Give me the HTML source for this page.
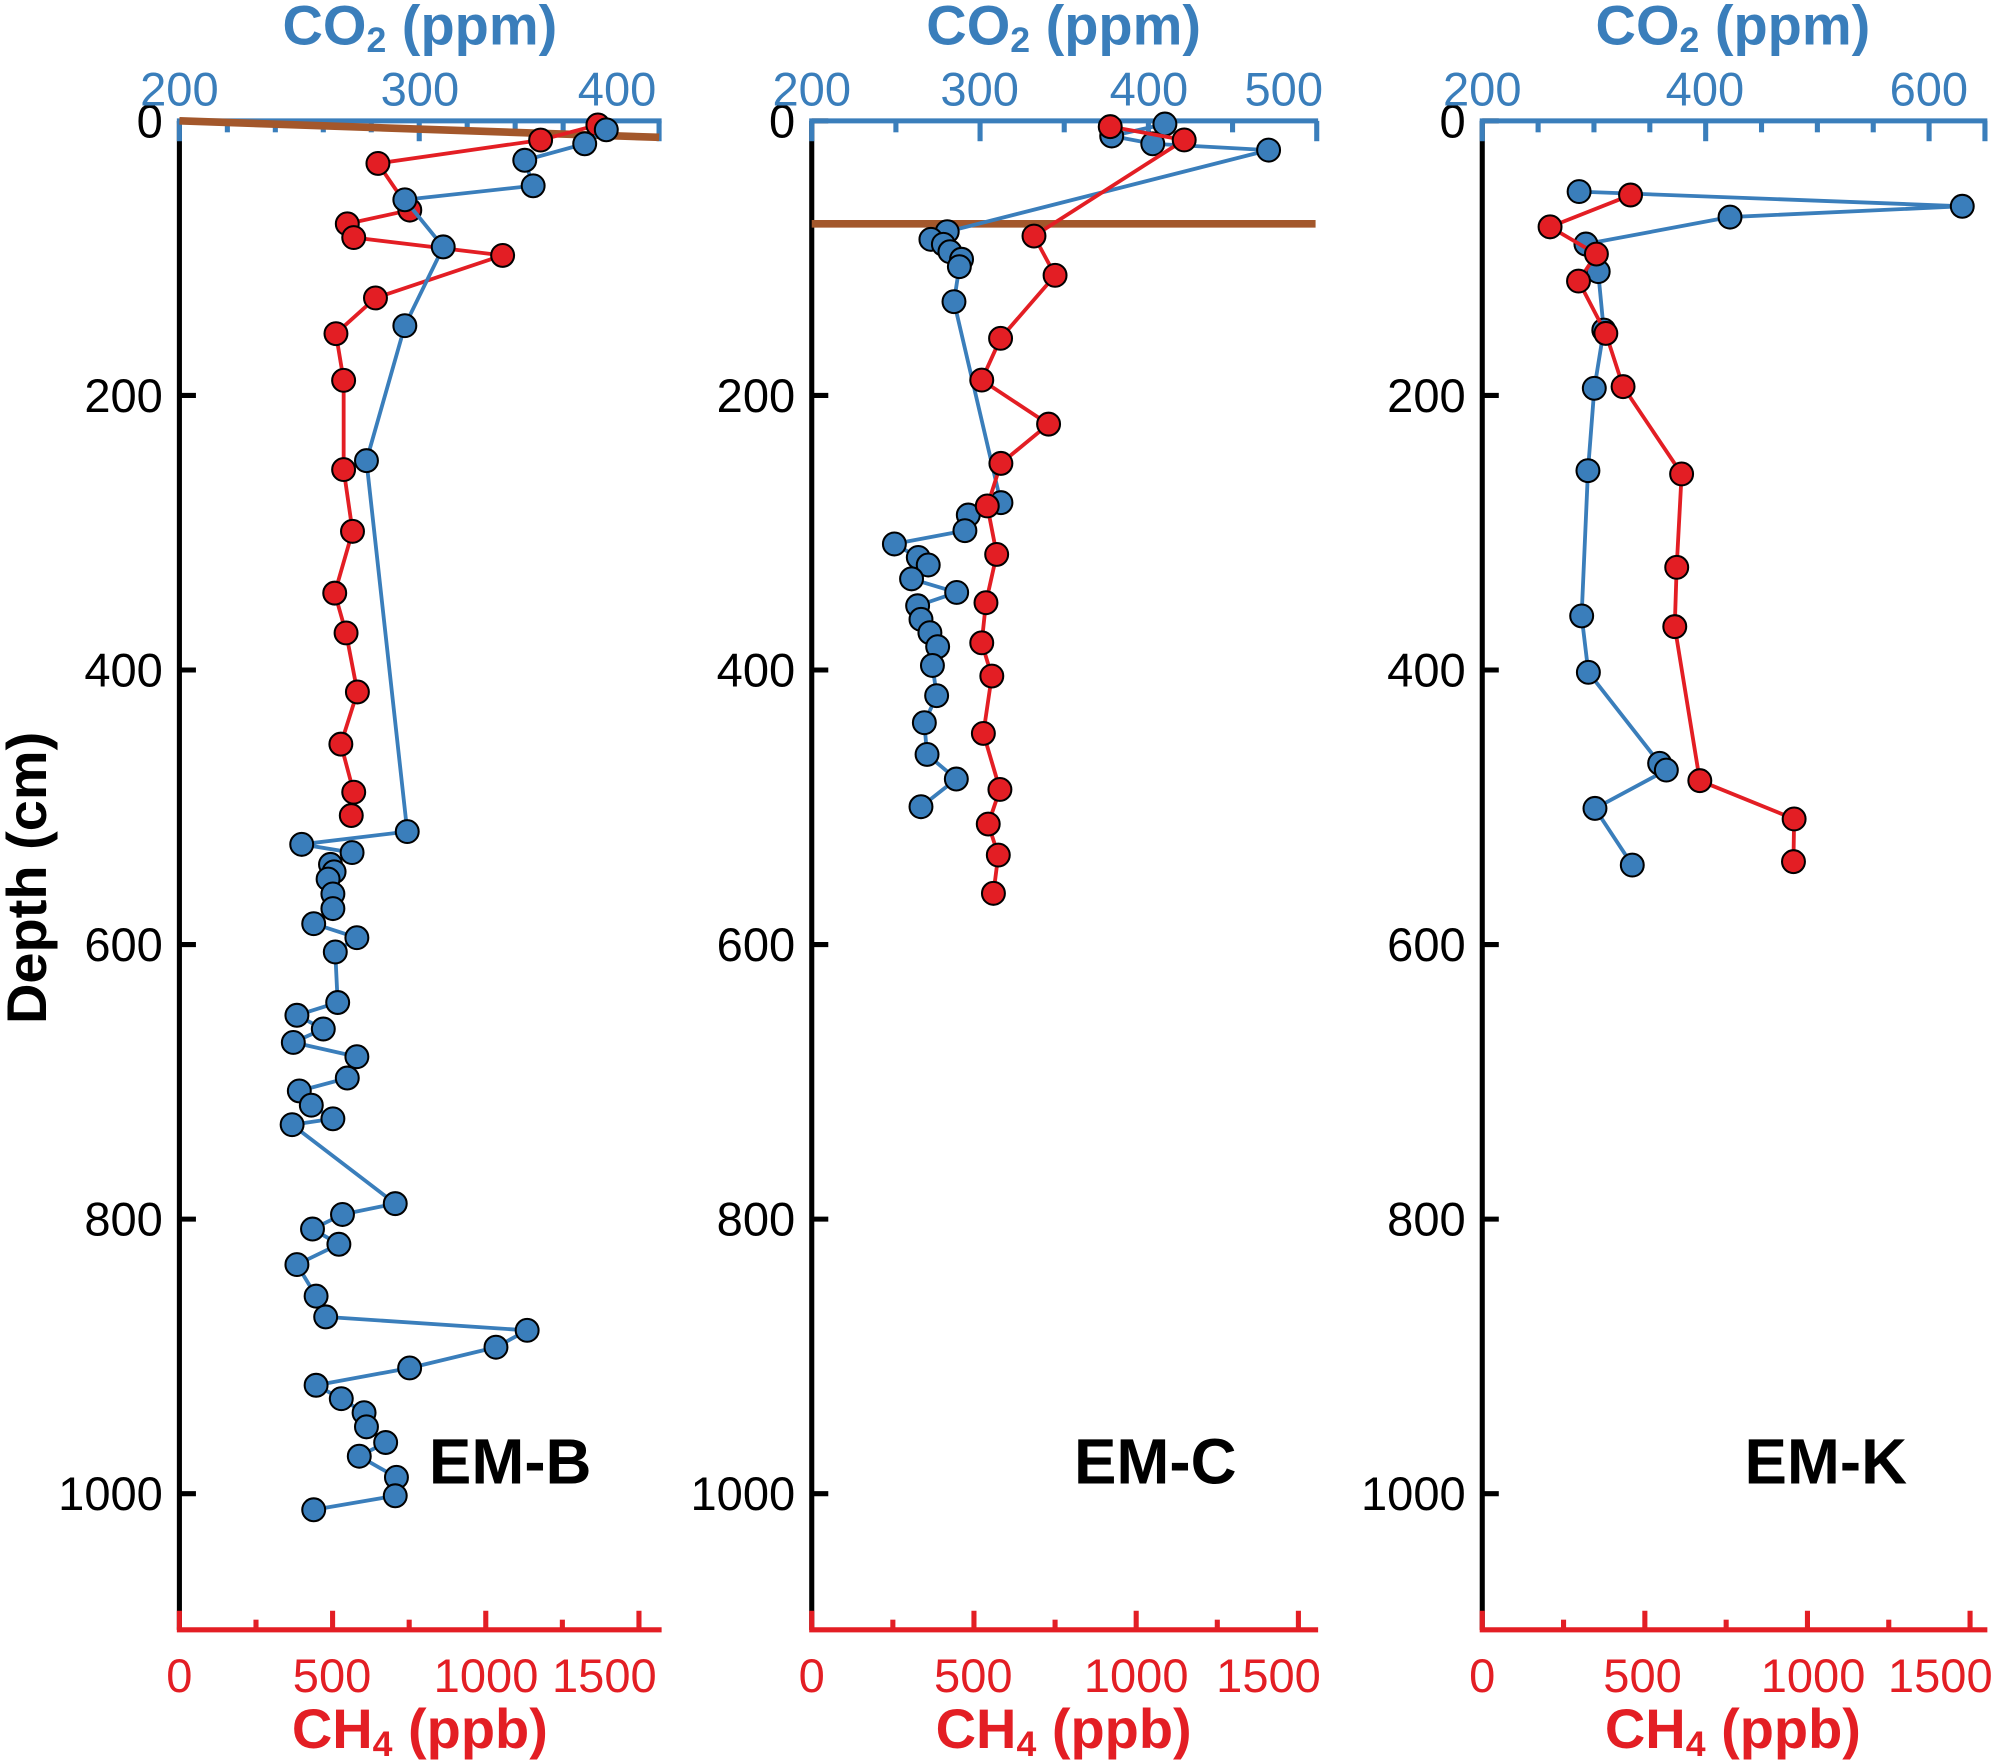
<!DOCTYPE html>
<html><head><meta charset="utf-8"><style>
html,body{margin:0;padding:0;background:#fff;}
svg{display:block;}
text{font-family:"Liberation Sans",Arial,sans-serif;}
</style></head><body>
<svg id="chart" width="1995" height="1760" viewBox="0 0 1568 1383.3" xmlns="http://www.w3.org/2000/svg">
<text x="0" y="0" transform="translate(36,690) rotate(-90)" text-anchor="middle" font-size="44" font-weight="bold" fill="#000">Depth (cm)</text>
</svg>
<script>
// ---- data: EM-B ----
const depthCO2B=[6.5,16.7,28.7,47.3,57.5,91.8,149.2,247.5,517.7,527,533,541.6,547,552.3,563.1,573.8,584.8,595,605.4,642.2,651.5,661.5,671.3,681.7,697.2,706.6,717,726.9,731.2,788.7,796.6,807.2,818.3,833.1,856.1,871.2,881,893.3,908.4,921,930.8,941,951.3,962.7,972.7,988.1,1001.5,1011.7];
const co2B=[378,369,344,347.5,294,310,294,278,295,251,272,263,264.5,262,264,264,256,274,265,266,249,260,247.5,274,270,250,255,264,247,290,268,255.5,266.5,249,257,261,345,332,296,257,267.5,277,278,286,275,290.5,290,256];
const depthCH4B=[3,14,31,65,75,85,98,129,155,189,254,299,344,373,416,454,489,506];
const ch4B=[1366,1179,648,752,548,569,1055,640,511,536,536,565,507,544,581,527,569,561];
// ---- data: EM-C ----
const depthCO2C=[2.3,11,16.7,21.3,80.7,86.3,89.9,95.3,100.8,106.2,131.7,278.1,287.1,298.5,308.2,318,323.5,333.6,343.5,353.2,363.1,372.8,383,396.7,418.7,438.4,461.5,479.4,499.6];
const co2C=[409.8,378.2,402.6,471.4,280.5,270.8,278.2,282.1,289,287.7,284.5,312.4,293,291,249.1,263.3,269.2,259.3,286.1,262.9,264.9,270.2,274.8,271.7,274.2,266.9,268.5,285.9,264.9];
const depthCH4C=[4.2,13.9,83.9,112.5,158.4,188.8,220.9,249.5,280.5,315.8,351,380.2,404.4,446.2,487,512.2,534.8,562.7];
const ch4C=[920,1148,685,750,582,524,730,583,541,570,537,524,555,529,580,544,575,560];
// ---- data: EM-K ----
const depthCO2K=[51.5,62.2,70.1,89.7,109.8,152.4,194.8,254.8,360.6,401.7,468,472.9,500.8,542.1];
const co2K=[286.7,629.7,421.8,292.8,303.8,308.8,300.3,294.6,289,295,358.8,364.8,300.9,334.3];
const depthCH4K=[54,77.2,97,116.7,154.8,193.6,257.2,325.2,368.4,480.6,508.5,539.6];
const ch4K=[456,208.5,351,296,380,433,613,598,592,669,959,957];
// ---- tick labels ----
const depthTicks=[0,200,400,600,800,1000];
const ch4TickLabels=["0","500","1000","1500"];

const NS="http://www.w3.org/2000/svg";
const svg=document.getElementById('chart');
const BLUE="#3a7ebb",RED="#e31e24",BROWN="#a3572b";
function mk(tag,attrs,parent){const e=document.createElementNS(NS,tag);for(const k in attrs)e.setAttribute(k,attrs[k]);(parent||svg).appendChild(e);return e;}

const Y0=95,YB=1281,DPX=1.079;
function yD(d){return Y0+d*DPX;}

const panels=[
 {id:'em-b',x0:141,xEnd:518,co2Min:200,co2Scale:1.885,co2Step:20,co2Major:[200,300,400],co2Max:400,
  co2Labels:[[200,141],[300,330],[400,485]],ch4Scale:0.2408,ch4LabelX:[141,261,382,475],
  dC:depthCO2B,vC:co2B,dM:depthCH4B,vM:ch4B,redFirst:true,name:'EM-B',nameX:401,titleX:330,
  brown:[[141,0],[518,12]]},
 {id:'em-c',x0:638,xEnd:1034,co2Min:200,co2Scale:1.323,co2Step:50,co2Major:[200,300,400,500],co2Max:500,
  co2Labels:[[200,638],[300,770],[400,903],[500,1009]],ch4Scale:0.255,ch4LabelX:[638,765,893,997],
  dC:depthCO2C,vC:co2C,dM:depthCH4C,vM:ch4C,redFirst:false,name:'EM-C',nameX:908,titleX:836,
  brown:[[638,75],[1034,75]]},
 {id:'em-k',x0:1165,xEnd:1560,co2Min:200,co2Scale:0.878,co2Step:50,co2Major:[200,400,600],co2Max:650,
  co2Labels:[[200,1165],[400,1340],[600,1516]],ch4Scale:0.2556,ch4LabelX:[1165,1291,1425,1525],
  dC:depthCO2K,vC:co2K,dM:depthCH4K,vM:ch4K,redFirst:false,name:'EM-K',nameX:1435,titleX:1362,
  brown:null}
];

panels.forEach(p=>{
 const g=mk('g',{});
 
 
 const xC=v=>p.x0+(v-p.co2Min)*p.co2Scale;
 const xM=v=>p.x0+v*p.ch4Scale;
 const la=mk('line',{x1:p.x0,y1:Y0,x2:p.x0,y2:YB,stroke:'#000','stroke-width':4},g);
 
 
 depthTicks.forEach(d=>{
  const t=mk('line',{x1:p.x0,y1:yD(d),x2:p.x0+13,y2:yD(d),stroke:'#000','stroke-width':4},g);
  
  
  const l=mk('text',{x:p.x0-13,y:yD(d)+13,'text-anchor':'end','font-size':37,fill:'#000'},g);
  
  
  l.textContent=d;
 });
 const ta=mk('line',{x1:p.x0-2,y1:Y0,x2:p.xEnd+2,y2:Y0,stroke:BLUE,'stroke-width':4},g);
 
 
 for(let v=p.co2Min;v<=p.co2Max+0.01;v+=p.co2Step){
  const major=p.co2Major.indexOf(v)>=0||v===p.co2Max;
  const t=mk('line',{x1:xC(v),y1:Y0,x2:xC(v),y2:Y0+(major?16:9),stroke:BLUE,'stroke-width':4},g);
  
  
 }
 p.co2Labels.forEach(([v,x])=>{
  const l=mk('text',{x:x,y:83,'text-anchor':'middle','font-size':37,fill:BLUE},g);
  
  
  l.textContent=v;
 });
 const ct=mk('text',{x:p.titleX,y:35,'text-anchor':'middle','font-size':44,'font-weight':'bold',fill:BLUE},g);
 
 
 ct.innerHTML='CO<tspan font-size="28" dy="6">2</tspan><tspan dy="-6"> (ppm)</tspan>';
 const ba=mk('line',{x1:p.x0-2,y1:YB,x2:p.xEnd+2,y2:YB,stroke:RED,'stroke-width':4},g);
 
 
 for(let v=0;v<=1500;v+=250){
  const major=v%500===0;
  const t=mk('line',{x1:xM(v),y1:YB,x2:xM(v),y2:YB-(major?15:8),stroke:RED,'stroke-width':4},g);
  
  
 }
 ch4TickLabels.forEach((s,i)=>{
  const l=mk('text',{x:p.ch4LabelX[i],y:1330,'text-anchor':'middle','font-size':37,fill:RED},g);
  
  
  l.textContent=s;
 });
 const mt=mk('text',{x:p.titleX,y:1374,'text-anchor':'middle','font-size':44,'font-weight':'bold',fill:RED},g);
 
 
 mt.innerHTML='CH<tspan font-size="28" dy="6">4</tspan><tspan dy="-6"> (ppb)</tspan>';
 if(p.brown){
  const b=mk('line',{x1:p.brown[0][0],y1:yD(p.brown[0][1]),x2:p.brown[1][0],y2:yD(p.brown[1][1]),stroke:BROWN,'stroke-width':6},g);
  
  
 }
 function series(depths,vals,xf,color,nm){
  const sg=mk('g',{},g);
  
  
  const pts=depths.map((d,i)=>xf(vals[i]).toFixed(1)+','+yD(d).toFixed(1)).join(' ');
  const pl=mk('polyline',{points:pts,fill:'none',stroke:color,'stroke-width':3,'stroke-linejoin':'round'},sg);
  
  
  depths.forEach((d,i)=>{
   const c=mk('circle',{cx:xf(vals[i]),cy:yD(d),r:9,fill:color,stroke:'#000','stroke-width':1.6},sg);
   
   
  });
 }
 if(p.redFirst){series(p.dM,p.vM,xM,RED,'ch4');series(p.dC,p.vC,xC,BLUE,'co2');}
 else{series(p.dC,p.vC,xC,BLUE,'co2');series(p.dM,p.vM,xM,RED,'ch4');}
 const nl=mk('text',{x:p.nameX,y:1166,'text-anchor':'middle','font-size':50,'font-weight':'bold',fill:'#000'},g);
 
 
 nl.textContent=p.name;
});
</script>
</body></html>
